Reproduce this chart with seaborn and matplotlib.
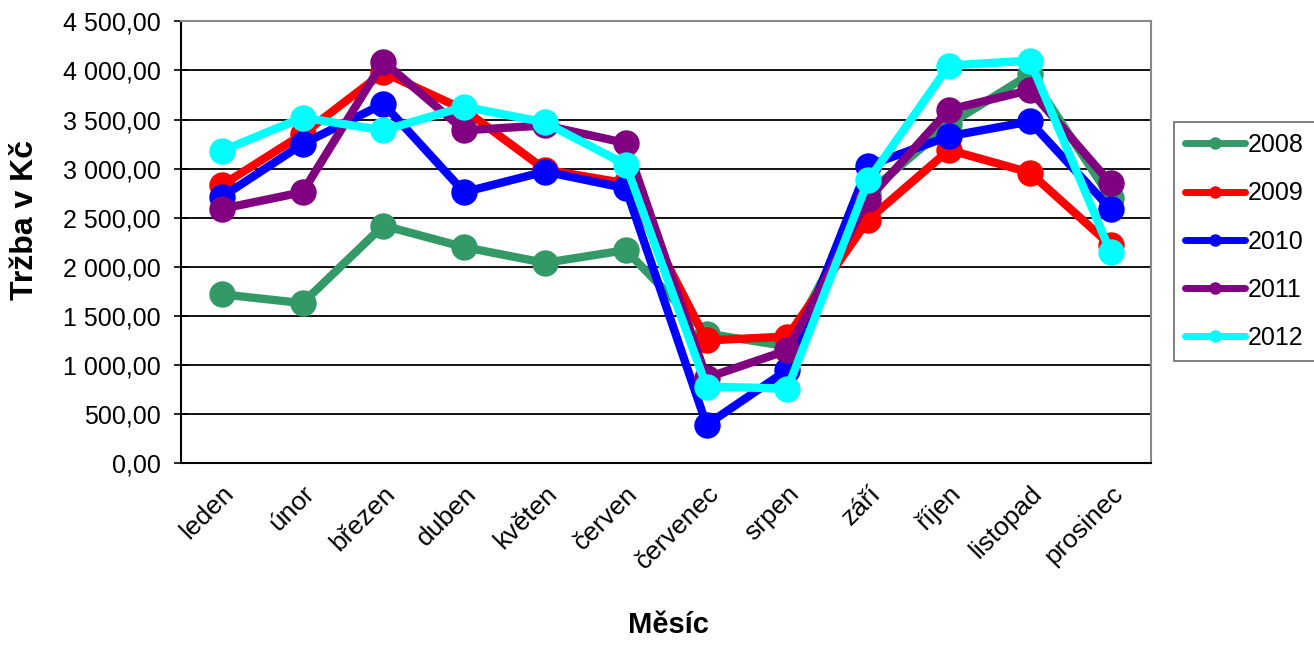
import matplotlib
matplotlib.use("Agg")
import matplotlib.pyplot as plt
import matplotlib.ticker as mticker
import numpy as np
import pandas as pd
import seaborn as sns

months = ["leden", "únor", "březen", "duben", "květen", "červen",
          "červenec", "srpen", "září", "říjen", "listopad", "prosinec"]
years = ["2008", "2009", "2010", "2011", "2012"]

sales_2008 = [1720, 1630, 2420, 2200, 2040, 2170, 1320, 1190, 2750, 3450, 3960, 2700]
sales_2009 = [2830, 3350, 3980, 3600, 2990, 2850, 1250, 1290, 2480, 3190, 2960, 2220]
sales_2010 = [2710, 3250, 3660, 2760, 2970, 2800, 390, 950, 3030, 3330, 3480, 2590]
sales_2011 = [2590, 2760, 4090, 3390, 3440, 3260, 870, 1150, 2690, 3600, 3800, 2850]
sales_2012 = [3180, 3520, 3390, 3630, 3470, 3040, 780, 760, 2880, 4050, 4100, 2150]

colors = ["#339966", "#FF0000", "#0000FF", "#800080", "#00FFFF"]

df = pd.DataFrame({
    "Měsíc": months * len(years),
    "Tržba": sales_2008 + sales_2009 + sales_2010 + sales_2011 + sales_2012,
    "Rok": [y for y in years for _ in months],
})
df["x"] = [months.index(m) for m in df["Měsíc"]]

sns.set_style("white")
plt.rcParams["font.family"] = ["Liberation Sans", "DejaVu Sans"]
plt.rcParams["text.color"] = "black"
plt.rcParams["axes.labelcolor"] = "black"
plt.rcParams["xtick.color"] = "black"
plt.rcParams["ytick.color"] = "black"

fig = plt.figure(figsize=(13.14, 6.46), dpi=100)
ax = fig.add_axes([0.138, 0.283, 0.738, 0.684])

sns.lineplot(data=df, x="x", y="Tržba", hue="Rok", hue_order=years,
             palette=colors, marker="o", markersize=19, markeredgewidth=0,
             linewidth=6, sort=False, ax=ax, legend=True)

ax.set_xlim(-0.5, 11.5)
ax.set_ylim(0, 4500)
ax.yaxis.set_major_locator(mticker.MultipleLocator(500))
ax.yaxis.set_major_formatter(mticker.FuncFormatter(
    lambda v, _: f"{v:,.2f}".replace(",", " ").replace(".", ",")))
ax.grid(axis="y", color="black", linewidth=1.3)
ax.set_axisbelow(True)

ax.set_xticks(np.arange(12))
ax.set_xticklabels(months, rotation=45, ha="right", rotation_mode="anchor", fontsize=19)
ax.set_xticks(np.arange(-0.5, 12, 1), minor=True)
ax.tick_params(axis="x", which="major", length=0, pad=13)
ax.tick_params(axis="x", which="minor", length=8, width=1.2, color="black", direction="out")
ax.tick_params(axis="y", length=10, width=1.2, color="black", direction="inout",
               labelsize=18, left=True, pad=10)

for side, sp in ax.spines.items():
    sp.set_color("#888888")
    sp.set_linewidth(1.5)
ax.spines["left"].set_color("black")
ax.spines["bottom"].set_color("black")

ax.set_xlabel("Měsíc", fontsize=21, fontweight="bold")
ax.set_ylabel("Tržba v Kč", fontsize=23, fontweight="bold")
ax.xaxis.set_label_coords(0.502, -0.335)
ax.yaxis.set_label_coords(-0.146, 0.55)

handles, labels = ax.get_legend_handles_labels()
for h in handles:
    h.set_markersize(9)
    h.set_linewidth(5)
leg = ax.legend(handles, labels, loc="center left", bbox_to_anchor=(0.8935, 0.626),
                bbox_transform=fig.transFigure, frameon=True, fontsize=18,
                fancybox=False, edgecolor="#444444", handlelength=2.4,
                labelspacing=0.97, borderpad=0.45, handletextpad=0.1, borderaxespad=0)
leg.get_frame().set_linewidth(1.2)

fig.savefig("out.png", dpi=100, facecolor="white")
